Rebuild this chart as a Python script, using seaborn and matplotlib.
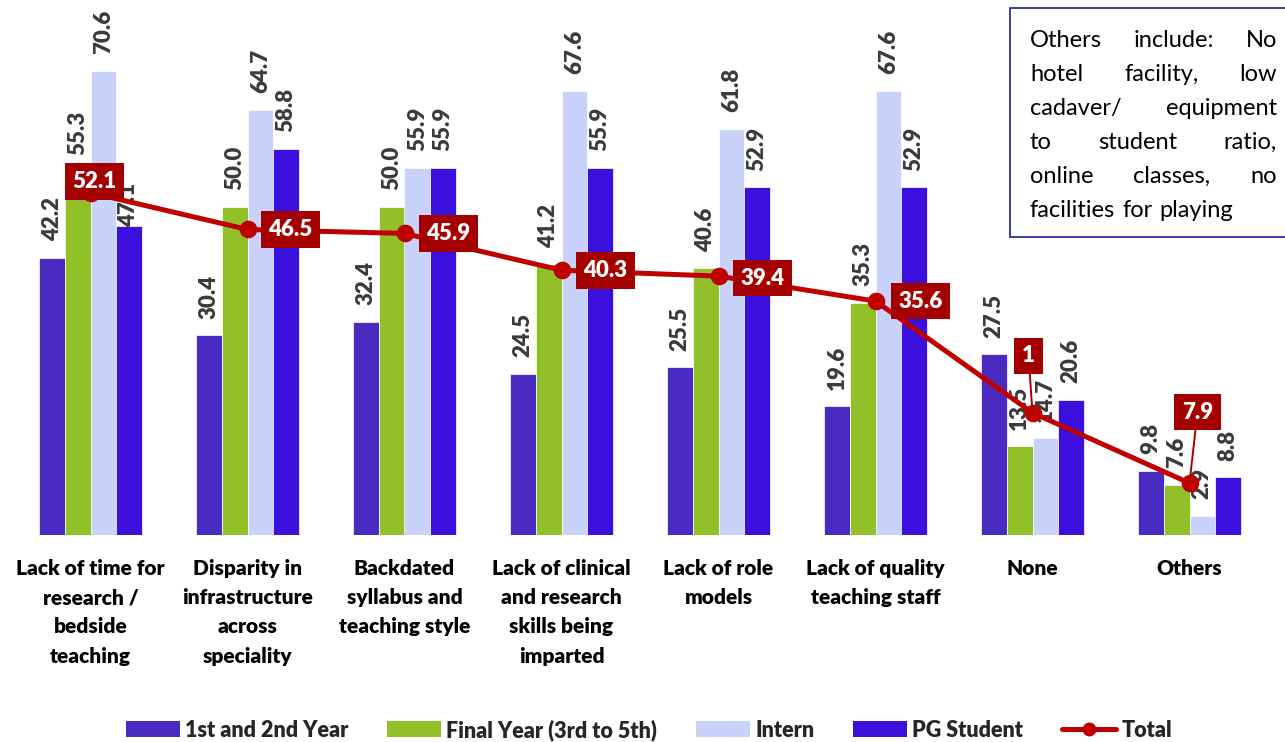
import numpy as np
import pandas as pd
import matplotlib
matplotlib.use("Agg")
import matplotlib.pyplot as plt
import seaborn as sns
from matplotlib.patches import Patch, Rectangle
from matplotlib.lines import Line2D

# ---------------- data ----------------
categories = [
    "Lack of time for\nresearch /\nbedside\nteaching",
    "Disparity in\ninfrastructure\nacross\nspeciality",
    "Backdated\nsyllabus and\nteaching style",
    "Lack of clinical\nand research\nskills being\nimparted",
    "Lack of role\nmodels",
    "Lack of quality\nteaching staff",
    "None",
    "Others",
]
series_names = ["1st and 2nd Year", "Final Year (3rd to 5th)", "Intern", "PG Student"]
first_second = [42.2, 30.4, 32.4, 24.5, 25.5, 19.6, 27.5, 9.8]
final_year = [55.3, 50.0, 50.0, 41.2, 40.6, 35.3, 13.5, 7.6]
intern = [70.6, 64.7, 55.9, 67.6, 61.8, 67.6, 14.7, 2.9]
pg_student = [47.1, 58.8, 55.9, 55.9, 52.9, 52.9, 20.6, 8.8]
total = [52.1, 46.5, 45.9, 40.3, 39.4, 35.6, 18.6, 7.9]
total_labels = ["52.1", "46.5", "45.9", "40.3", "39.4", "35.6", "1", "7.9"]
note_lines = [
    "Others include: No",
    "hotel facility, low",
    "cadaver/ equipment",
    "to student ratio,",
    "online classes, no",
    "facilities for playing",
]

colors = ["#4A2BC2", "#92C028", "#C8D2FA", "#3B0FDC"]
line_color = "#C00000"
box_color = "#A50000"

sns.set_style("white")
plt.rcParams["font.family"] = ["Lato", "DejaVu Sans"]

W, H = 1285, 742
fig = plt.figure(figsize=(W / 100, H / 100), dpi=100)
ax = fig.add_axes([12 / W, 1 - 535 / H, (1268 - 12) / W, 535 / H])

rows = []
for name, vals in zip(series_names, [first_second, final_year, intern, pg_student]):
    for c, v in zip(categories, vals):
        rows.append({"category": c, "series": name, "value": v})
df = pd.DataFrame(rows)

sns.barplot(data=df, x="category", y="value", hue="series", order=categories,
            hue_order=series_names, palette=colors, saturation=1, width=0.65,
            gap=0, legend=False, edgecolor="white", linewidth=0.5, ax=ax)

# value labels
special_offset = {(3, 0): -1}
for si, cont in enumerate(ax.containers):
    for ci, bar in enumerate(cont):
        h = bar.get_height()
        off = special_offset.get((si, ci), 12)
        ax.annotate(f"{h:.1f}", xy=(bar.get_x() + bar.get_width() / 2, h),
                    xytext=(0, off), textcoords="offset points",
                    rotation=90, ha="center", va="bottom",
                    fontsize=16, fontweight="heavy", color="#3A3A3A", zorder=3)

# total line
n_before = len(ax.lines)
sns.pointplot(x=categories, y=total, order=categories, color=line_color,
              markers="o", markersize=10, linewidth=3.6, ax=ax)
for ln in ax.lines[n_before:]:
    ln.set_zorder(4)

# total labels (offsets in px)
offs = [(4, 11), (43, 0), (44, 0), (44, 0), (44, -2), (45, 0), (-4, 57), (8, 71)]
for i, (lab, val) in enumerate(zip(total_labels, total)):
    dx, dy = offs[i]
    kw = {}
    if i >= 6:
        kw["arrowprops"] = dict(arrowstyle="-", color=box_color, lw=1.4,
                                shrinkA=0, shrinkB=0)
    ax.annotate(lab, xy=(i, val), xytext=(dx * 0.72, dy * 0.72),
                textcoords="offset points", ha="center", va="center",
                fontsize=16, fontweight="heavy", color="white", zorder=6,
                bbox=dict(boxstyle="square,pad=0.35", fc=box_color, ec="none"),
                **kw)

ax.set_xlim(-0.5, 7.5)
ax.set_ylim(0, 535 / 6.57)
ax.set_xlabel("")
ax.set_ylabel("")
ax.set_yticks([])
for s in ax.spines.values():
    s.set_visible(False)
ax.tick_params(axis="x", length=0, pad=17)
for lbl in ax.get_xticklabels():
    lbl.set_fontsize(15)
    lbl.set_fontweight("heavy")
    lbl.set_color("black")
    lbl.set_linespacing(1.65)

# legend
handles = [Patch(facecolor=c, edgecolor="none") for c in colors]
handles.append(Line2D([0], [0], color=line_color, lw=3.6, marker="o", markersize=9))
fig.legend(handles, series_names + ["Total"], loc="center", ncol=5,
           bbox_to_anchor=(0.505, 1 - 730 / H), frameon=False,
           prop={"weight": "heavy", "size": 15.5, "family": "Lato"},
           handlelength=2.5, handleheight=0.77, handletextpad=0.25,
           columnspacing=1.8)

# note box (top right)
rect = Rectangle((1010 / W, 1 - 237 / H), (1300 - 1010) / W, (237 - 8) / H,
                 transform=fig.transFigure, facecolor="white",
                 edgecolor="#2E2E9A", lw=1.3, zorder=10)
fig.add_artist(rect)
renderer = fig.canvas.get_renderer()
left_px, right_px = 1030, 1277
note_fs = 17
for li, line in enumerate(note_lines):
    base_y = 47 + 34 * li
    words = line.split()
    widths = []
    for w in words:
        t = fig.text(0, 0, w, fontsize=note_fs, family="Lato")
        widths.append(t.get_window_extent(renderer).width)
        t.remove()
    if li == len(note_lines) - 1 or len(words) == 1:
        gap = 7
    else:
        gap = (right_px - left_px - sum(widths)) / (len(words) - 1)
    x = left_px
    for w, wd in zip(words, widths):
        fig.text(x / W, 1 - base_y / H, w, fontsize=note_fs, family="Lato",
                 ha="left", va="baseline", color="black", zorder=11)
        x += wd + gap

fig.savefig("out.png", dpi=100)
